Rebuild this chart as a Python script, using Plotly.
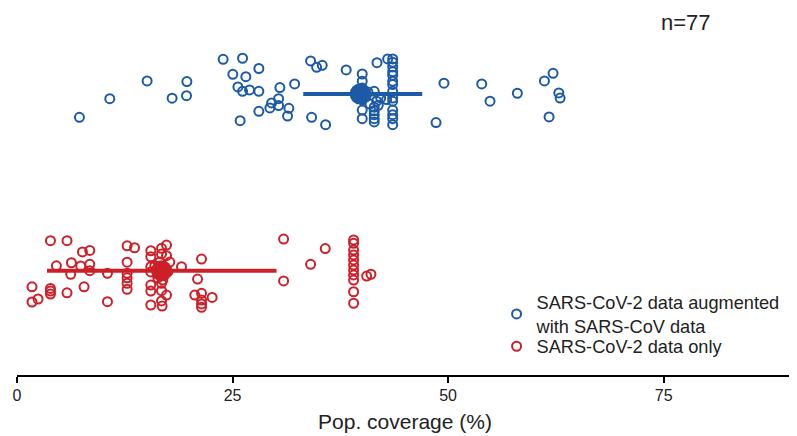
import plotly.graph_objects as go

# ---- data ----
groups = ["SARS-CoV-2 data augmented<br>with SARS-CoV data", "SARS-CoV-2 data only"]
group_pos = [1, 0]

blue_x = [7.24, 10.76, 15.09, 17.99, 19.70, 19.66, 23.91, 26.16, 25.03, 26.54,
          25.62, 26.16, 26.97, 25.88, 28.05, 28.05, 28.05, 30.49, 32.20, 29.53,
          30.34, 30.34, 29.33, 31.53, 31.38, 34.05, 34.75, 35.40, 38.18, 34.17,
          35.79, 41.75, 40.04, 40.04, 40.04, 40.04, 41.43, 41.43, 41.43, 41.43,
          41.43, 41.71, 41.90, 42.18, 42.87, 41.43,
          43.57, 43.57, 43.57, 43.57, 43.57, 43.57, 43.57, 43.57, 43.57, 43.57,
          43.57, 43.57, 43.57, 43.57,
          42.99, 49.52, 48.60, 53.90, 54.86, 58.03, 61.17, 62.17, 62.84, 62.99,
          61.71, 40.04, 40.04, 40.04, 40.70, 40.47, 40.94]
blue_jit = [-0.132, -0.027, 0.074, -0.024, 0.070, -0.010, 0.196, 0.202, 0.111, 0.098,
            0.040, 0.015, 0.023, -0.151, 0.144, 0.015, -0.098, 0.036, 0.057, -0.051,
            -0.027, -0.066, -0.079, -0.081, -0.125, 0.187, 0.151, 0.162, 0.136, -0.132,
            -0.174, 0.177, 0.113, 0.072, -0.091, -0.140, -0.075, -0.095, -0.117, -0.140,
            -0.158, -0.041, -0.064, -0.023, -0.032, 0.015,
            0.198, 0.179, 0.153, 0.125, 0.106, 0.072, 0.053, 0.015, -0.023, -0.041,
            -0.091, -0.117, -0.140, -0.174,
            0.198, 0.061, -0.162, 0.057, -0.041, 0.004, 0.074, 0.117, 0.006, -0.023,
            -0.130, 0.034, -0.006, -0.034, 0.011, -0.017, -0.057]

red_x = [3.88, 5.80, 7.59, 8.44, 4.57, 6.31, 6.23, 7.39, 8.44, 8.44,
         10.49, 12.77, 13.63, 12.77, 12.77, 12.77, 12.77, 12.77,
         1.74, 1.74, 2.44, 3.88, 3.88, 3.88, 5.80, 7.78, 10.49,
         15.52, 15.52, 15.52, 15.52, 15.52, 15.52,
         16.76, 16.76, 16.76, 16.76, 16.76,
         17.34, 17.34, 17.34, 16.83, 19.08, 21.40, 20.94, 20.62,
         21.40, 21.40, 21.40, 21.40, 22.63, 30.92, 30.92, 34.05, 35.75,
         39.04, 39.04, 39.04, 39.04, 39.04, 39.04, 39.04, 39.04, 39.04, 39.04, 39.04,
         40.55, 41.05,
         15.98, 16.56, 17.14, 16.76, 16.33, 17.49, 15.52, 17.72, 16.91]
red_jit = [0.170, 0.170, 0.106, 0.115, 0.028, 0.045, -0.020, 0.027, 0.036, 0.000,
           -0.015, 0.141, 0.130, 0.048, -0.015, -0.040, -0.071, -0.105,
           -0.091, -0.177, -0.160, -0.100, -0.115, -0.132, -0.125, -0.091, -0.175,
           0.113, 0.079, 0.023, -0.081, -0.115, -0.194,
           0.127, 0.095, -0.071, -0.113, -0.171,
           0.145, 0.085, -0.138, -0.200, 0.023, 0.066, -0.047, -0.138,
           -0.128, -0.166, -0.188, -0.207, -0.151, 0.179, -0.058, 0.036, 0.125,
           0.174, 0.155, 0.117, 0.089, 0.061, 0.032, 0.004, -0.024, -0.053, -0.119, -0.184,
           -0.030, -0.020,
           0.027, 0.049, 0.015, -0.024, -0.041, -0.007, -0.007, 0.049, -0.053]

# summary (centre, lower, upper)
blue_summary = [39.8, 33.2, 47.0]
red_summary = [16.76, 3.48, 30.1]

x_ticks = [0, 25, 50, 75]
n_label = "n=77"

BLUE = "#1D5AA6"
RED = "#CC2029"

fig = go.Figure()

series = [
    (groups[0], group_pos[0], blue_x, blue_jit, blue_summary, BLUE, "legend"),
    (groups[1], group_pos[1], red_x, red_jit, red_summary, RED, "legend2"),
]

for name, pos, xs, js, summ, col, lg in series:
    fig.add_trace(go.Scatter(
        x=[summ[1], summ[2]], y=[pos, pos], mode="lines",
        line=dict(color=col, width=4), showlegend=False, hoverinfo="skip"))
    fig.add_trace(go.Scatter(
        x=[summ[0]], y=[pos], mode="markers",
        marker=dict(color=col, size=21, line=dict(width=0)),
        showlegend=False, hoverinfo="skip"))

for name, pos, xs, js, summ, col, lg in series:
    fig.add_trace(go.Scatter(
        x=xs, y=[pos + j for j in js], mode="markers", name=name, legend=lg,
        marker=dict(symbol="circle-open", size=9, color=col, line=dict(width=2, color=col))))

fig.add_annotation(text=n_label, xref="paper", yref="paper", x=0.862, y=0.967,
                   xanchor="center", yanchor="middle", showarrow=False,
                   font=dict(size=22, color="#222222"))

leg_common = dict(xanchor="left", yanchor="top", font=dict(size=18.2),
                  bgcolor="rgba(0,0,0,0)", itemwidth=30)

fig.update_layout(
    width=789, height=428,
    margin=dict(l=9, r=4, t=2, b=61),
    paper_bgcolor="white", plot_bgcolor="white",
    font=dict(family="Liberation Sans, Arial, sans-serif", color="#222222"),
    xaxis=dict(range=[0, 90], tickvals=x_ticks, ticks="outside", ticklen=6, tickwidth=2,
               tickcolor="black", showline=True, linecolor="black", linewidth=2,
               showgrid=False, zeroline=False, tickfont=dict(size=16), automargin=False,
               ticklabelstandoff=-1,
               title=dict(text="Pop. coverage (%)", font=dict(size=21), standoff=11)),
    yaxis=dict(range=[-0.590, 1.475], visible=False, showgrid=False, zeroline=False,
               automargin=False),
    legend=dict(x=0.618, y=0.25, **leg_common),
    legend2=dict(x=0.618, y=0.129, **leg_common),
    showlegend=True,
)

fig.write_html("out.html")
